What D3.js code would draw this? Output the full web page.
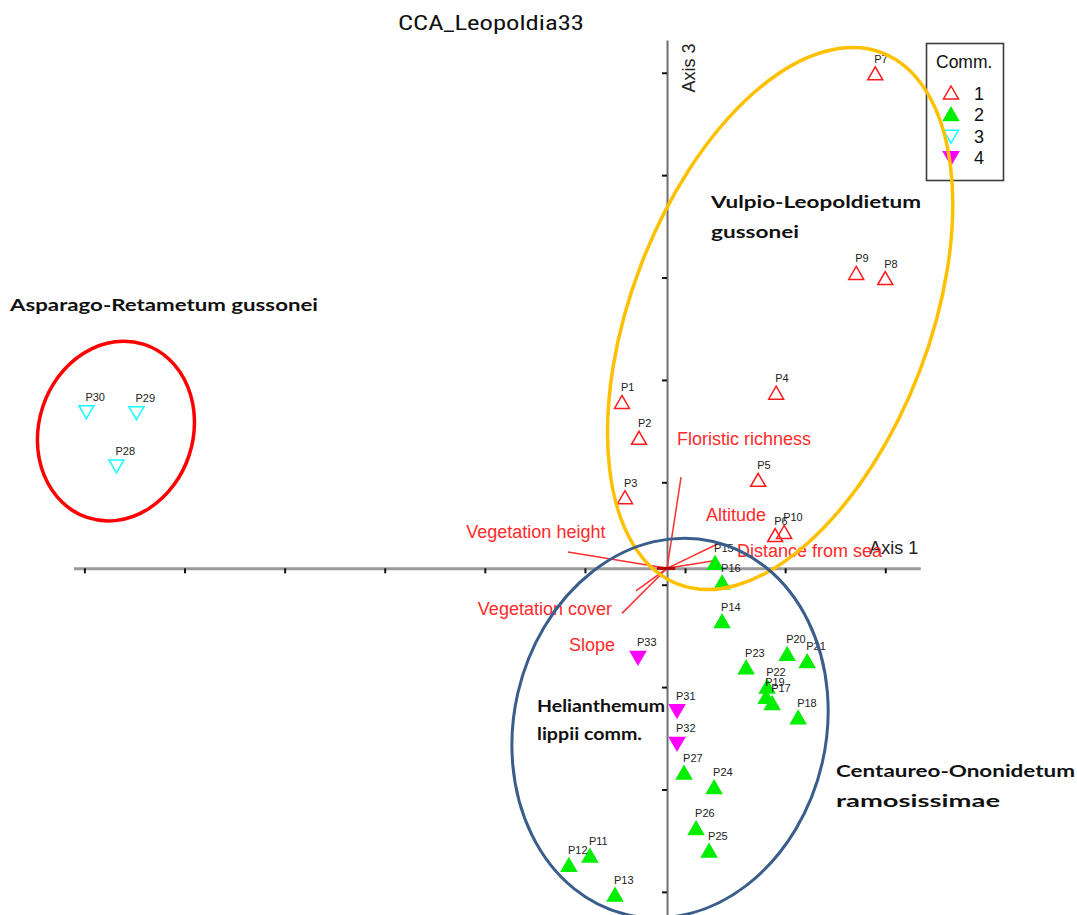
<!DOCTYPE html>
<html>
<head>
<meta charset="utf-8">
<title>CCA_Leopoldia33</title>
<script src="https://cdn.jsdelivr.net/npm/d3@7"></script>
<style>
  html, body { margin: 0; padding: 0; background: #ffffff; }
  svg { display: block; }
</style>
</head>
<body>
<svg id="chart" width="1077" height="915"></svg>
<script>
// ---- Relevés: CCA site scores on axis 1 and axis 3, community membership ----
const siteNames = ["P1","P2","P3","P4","P5","P6","P7","P8","P9","P10",
  "P11","P12","P13","P14","P15","P16","P17","P18","P19","P20","P21","P22","P23",
  "P24","P25","P26","P27","P28","P29","P30","P31","P32","P33"];
const axis1Scores = [-0.45, -0.28, -0.42, 1.09, 0.91, 1.08, 2.08, 2.18, 1.89, 1.17,
  -0.77, -0.98, -0.52, 0.55, 0.48, 0.55, 1.05, 1.31, 0.99, 1.20, 1.40, 1.00, 0.79,
  0.47, 0.42, 0.29, 0.17, -5.50, -5.30, -5.80, 0.10, 0.10, -0.29];
const axis3Scores = [1.62, 1.27, 0.69, 1.71, 0.86, 0.32, 4.83, 2.83, 2.88, 0.35,
  -2.81, -2.90, -3.19, -0.52, 0.05, -0.14, -1.32, -1.46, -1.26, -0.84, -0.91, -1.16, -0.97,
  -2.14, -2.76, -2.54, -2.00, 1.00, 1.52, 1.53, -1.39, -1.71, -0.87];
const siteCommunity = [1,1,1,1,1,1,1,1,1,1,
  2,2,2,2,2,2,2,2,2,2,2,2,2,
  2,2,2,2,3,3,3,4,4,4];
const communityCodes = [1, 2, 3, 4];

// ---- Tick marks (axes cross at the ordination centre) ----
const xTickValues = [-5.82, -4.82, -3.82, -2.82, -1.82, -0.82, 0.18, 1.18, 2.18];
const yTickValues = [4.84, 3.84, 2.84, 1.84, 0.84, -0.16, -1.16, -2.16, -3.16];

// ---- Environmental variables (biplot arrows) ----
const envVariables = ["Floristic richness", "Altitude", "Distance from sea",
  "Vegetation height", "Vegetation cover", "Slope"];
const envAxis1 = [0.14, 0.53, 0.50, -0.99, -0.45, -0.31];
const envAxis3 = [0.89, 0.25, 0.08, 0.16, -0.44, -0.22];
// short residual segment lying on axis 1 around the centre
const centreSegment = [-0.10, 0.08];

// ---- Plant associations and their envelopes (score units) ----
const associationNames = [
  ["Asparago-Retametum gussonei"],
  ["Vulpio-Leopoldietum", "gussonei"],
  ["Helianthemum", "lippii comm."],
  ["Centaureo-Ononidetum", "ramosissimae"]
];
const envelopeCentreX = [-5.505, 1.13, 0.03];
const envelopeCentreY = [1.341, 2.44, -1.56];
const envelopeRadiusX = [0.77, 1.49, 1.56];
const envelopeRadiusY = [0.89, 2.78, 1.87];

// ---- Layout and styling ----
const FONT = "'Liberation Sans', Arial, sans-serif";
const envelopeStyle = [
  { stroke: "#ff0000", width: 3.5, tilt: 18 },
  { stroke: "#ffc000", width: 3.5, tilt: 21 },
  { stroke: "#3a5d8c", width: 3, tilt: 13 }
];
// label placement for the association names: start x, first baseline, line gap, text widths
const associationLayout = [
  { x: 10,  y: 311, gap: 30, widths: [308] },
  { x: 711, y: 208, gap: 30, widths: [210, 88] },
  { x: 537, y: 712, gap: 28, widths: [128, 105] },
  { x: 836, y: 777, gap: 30, widths: [239, 164] }
];
// arrow label offsets from the arrow tip (pixels) and anchoring
const envLabelLayout = [
  { dx: -4,   dy: -32,  anchor: "start" },
  { dx: -14,  dy: -21.5, anchor: "start" },
  { dx: 20,   dy: -3.5, anchor: "start" },
  { dx: 37.5, dy: -14,  anchor: "end" },
  { dx: -10,  dy: 2,    anchor: "end" },
  { dx: -21,  dy: 60.5, anchor: "end" }
];
const communityStyle = {
  1: { dir: "up",   fill: "none",    stroke: "#ff1a1a" },
  2: { dir: "up",   fill: "#00ee00", stroke: "#00ee00" },
  3: { dir: "down", fill: "none",    stroke: "#18ffff" },
  4: { dir: "down", fill: "#ff00ff", stroke: "#ff00ff" }
};
const trianglePath = {
  up:   "M0,-7L7.5,6L-7.5,6Z",
  down: "M0,7L7.5,-6L-7.5,-6Z"
};

const svg = d3.select("#chart");

const x = d3.scaleLinear().domain([-5.93, 2.53]).range([73.4, 920.3]);
const y = d3.scaleLinear().domain([-3.38, 5.16]).range([914.4, 40.0]);

// ---- Title ----
svg.append("text")
  .attr("x", 491).attr("y", 30)
  .attr("text-anchor", "middle")
  .attr("font-family", "'Liberation Sans Narrow', 'Roboto Condensed', " + FONT)
  .attr("font-size", 21)
  .attr("textLength", 186)
  .attr("lengthAdjust", "spacingAndGlyphs")
  .attr("fill", "#111")
  .text("CCA_Leopoldia33");

// ---- Axes ----
const xAxisG = svg.append("g")
  .attr("transform", `translate(0,${y(0)})`)
  .call(d3.axisBottom(x).tickValues(xTickValues).tickFormat("").tickSize(5).tickSizeOuter(0));
xAxisG.select(".domain").attr("stroke", "#9a9a9a").attr("stroke-width", 3);
xAxisG.selectAll(".tick line").attr("stroke", "#111").attr("stroke-width", 2);

const yAxisG = svg.append("g")
  .attr("transform", `translate(${x(0)},0)`)
  .call(d3.axisLeft(y).tickValues(yTickValues).tickFormat("").tickSize(5).tickSizeOuter(0));
yAxisG.select(".domain").attr("stroke", "#6e6e6e").attr("stroke-width", 2);
yAxisG.selectAll(".tick line").attr("stroke", "#111").attr("stroke-width", 2);

svg.append("text")
  .attr("x", x(2.53) - 2).attr("y", y(0) - 14)
  .attr("text-anchor", "end")
  .attr("font-family", FONT).attr("font-size", 18).attr("fill", "#222")
  .text("Axis 1");

svg.append("text")
  .attr("transform", `translate(${x(0) + 28},${y(5.16) + 28}) rotate(-90)`)
  .attr("text-anchor", "middle")
  .attr("font-family", FONT).attr("font-size", 18).attr("fill", "#222")
  .text("Axis 3");

// ---- Environmental arrows ----
const envData = envVariables.map((name, i) => ({ name, a1: envAxis1[i], a3: envAxis3[i], lay: envLabelLayout[i] }));
const envG = svg.append("g");
envG.selectAll("line.env").data(envData).join("line")
  .attr("class", "env")
  .attr("x1", x(0)).attr("y1", y(0))
  .attr("x2", d => x(d.a1)).attr("y2", d => y(d.a3))
  .attr("stroke", "#ff3030").attr("stroke-width", 1.5);

envG.append("line")
  .attr("x1", x(centreSegment[0])).attr("x2", x(centreSegment[1]))
  .attr("y1", y(0)).attr("y2", y(0))
  .attr("stroke", "#b00000").attr("stroke-width", 3);

// ---- Sites ----
const sites = siteNames.map((name, i) => ({ name, a1: axis1Scores[i], a3: axis3Scores[i], comm: siteCommunity[i] }));
const siteG = svg.append("g");
siteG.selectAll("path.site").data(sites).join("path")
  .attr("class", "site")
  .attr("transform", d => `translate(${x(d.a1)},${y(d.a3)})`)
  .attr("d", d => trianglePath[communityStyle[d.comm].dir])
  .attr("fill", d => communityStyle[d.comm].fill)
  .attr("stroke", d => communityStyle[d.comm].stroke)
  .attr("stroke-width", 1.5)
  .attr("stroke-linejoin", "miter");

siteG.selectAll("text.site-label").data(sites).join("text")
  .attr("class", "site-label")
  .attr("x", d => x(d.a1) - 1).attr("y", d => y(d.a3) - 11)
  .attr("font-family", FONT).attr("font-size", 11).attr("fill", "#222")
  .text(d => d.name);

// ---- Arrow labels ----
envG.selectAll("text.env-label").data(envData).join("text")
  .attr("class", "env-label")
  .attr("x", d => x(d.a1) + d.lay.dx).attr("y", d => y(d.a3) + d.lay.dy)
  .attr("text-anchor", d => d.lay.anchor)
  .attr("font-family", FONT).attr("font-size", 18).attr("fill", "#ff2a2a")
  .text(d => d.name);

// ---- Legend ----
const legendG = svg.append("g");
legendG.append("rect")
  .attr("x", 926.5).attr("y", 43.5).attr("width", 77).attr("height", 137)
  .attr("fill", "none").attr("stroke", "#3c3c3c").attr("stroke-width", 1.6);
legendG.append("text")
  .attr("x", 936).attr("y", 68)
  .attr("font-family", FONT).attr("font-size", 17.5).attr("fill", "#111")
  .text("Comm.");
const legendItems = legendG.selectAll("g.item").data(communityCodes).join("g")
  .attr("class", "item")
  .attr("transform", (d, i) => `translate(951,${93 + i * 21.6})`);
legendItems.append("path")
  .attr("d", d => trianglePath[communityStyle[d].dir])
  .attr("fill", d => communityStyle[d].fill)
  .attr("stroke", d => communityStyle[d].stroke)
  .attr("stroke-width", 1.5);
legendItems.append("text")
  .attr("x", 23).attr("y", 6.5)
  .attr("font-family", FONT).attr("font-size", 18).attr("fill", "#111")
  .text(d => d);

// ---- Association envelopes ----
const envelopes = envelopeCentreX.map((cx, i) => ({
  cx, cy: envelopeCentreY[i], rx: envelopeRadiusX[i], ry: envelopeRadiusY[i], style: envelopeStyle[i]
}));
svg.append("g").selectAll("ellipse").data(envelopes).join("ellipse")
  .attr("transform", d => `translate(${x(d.cx)},${y(d.cy)}) rotate(${d.style.tilt})`)
  .attr("rx", d => x(d.rx) - x(0))
  .attr("ry", d => y(0) - y(d.ry))
  .attr("fill", "none")
  .attr("stroke", d => d.style.stroke)
  .attr("stroke-width", d => d.style.width);

// ---- Association names ----
const assocG = svg.append("g");
associationNames.forEach((lines, i) => {
  const lay = associationLayout[i];
  lines.forEach((line, j) => {
    assocG.append("text")
      .attr("x", lay.x).attr("y", lay.y + j * lay.gap)
      .attr("font-family", "Lato, 'Open Sans', sans-serif")
      .attr("font-weight", "bold").attr("font-size", 17)
      .attr("textLength", lay.widths[j]).attr("lengthAdjust", "spacingAndGlyphs")
      .attr("fill", "#111")
      .text(line);
  });
});
</script>
</body>
</html>
